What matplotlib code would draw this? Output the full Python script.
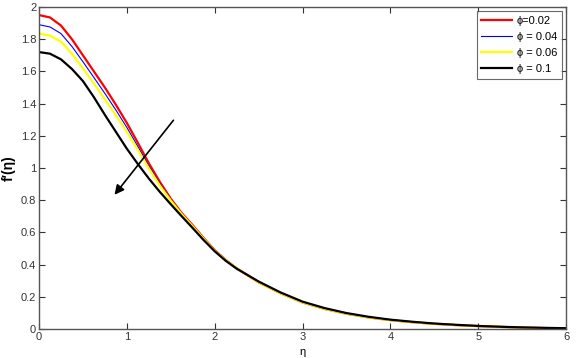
import matplotlib.pyplot as plt

# eta grid and f'(eta)
eta = [0, 0.125, 0.25, 0.375, 0.5, 0.625, 0.75, 0.875, 1.0, 1.125, 1.25,
       1.375, 1.5, 1.625, 1.75, 1.875, 2.0, 2.125, 2.25,
       2.5, 2.75, 3.0, 3.25, 3.5, 3.75, 4.0, 4.25, 4.5, 4.75, 5.0,
       5.25, 5.5, 5.75, 6.0]

tail = [0.29, 0.222, 0.165, 0.125, 0.095, 0.072, 0.055, 0.042, 0.032,
        0.024, 0.018, 0.013, 0.009, 0.006, 0.004]
tail_black = [0.295, 0.227, 0.17, 0.13, 0.099, 0.076, 0.058, 0.045, 0.034,
              0.026, 0.019, 0.014, 0.01, 0.007, 0.005]

phi_002 = [1.95, 1.935, 1.885, 1.80, 1.70, 1.60, 1.50, 1.393, 1.28, 1.157,
           1.03, 0.915, 0.81, 0.72, 0.645, 0.565, 0.49, 0.43, 0.377] + tail
phi_004 = [1.89, 1.876, 1.835, 1.755, 1.66, 1.562, 1.463, 1.36, 1.252, 1.134,
           1.013, 0.903, 0.803, 0.716, 0.641, 0.562, 0.488, 0.429, 0.377] + tail
phi_006 = [1.835, 1.822, 1.785, 1.71, 1.62, 1.525, 1.428, 1.328, 1.226, 1.113,
           0.998, 0.892, 0.798, 0.713, 0.638, 0.56, 0.486, 0.428, 0.377] + tail
phi_01 = [1.72, 1.71, 1.675, 1.615, 1.54, 1.44, 1.33, 1.225, 1.12, 1.025,
          0.935, 0.852, 0.775, 0.70, 0.627, 0.552, 0.483, 0.424, 0.375] + tail_black

labels = ['\u03d5=0.02', '\u03d5 = 0.04', '\u03d5 = 0.06', '\u03d5 = 0.1']
colors = ['red', 'blue', 'yellow', 'black']
widths = [1.6, 0.8, 1.6, 1.6]

plt.rcParams['font.family'] = ['Liberation Sans', 'DejaVu Sans']

fig = plt.figure(figsize=(5.78, 3.58), dpi=100)
ax = fig.add_axes([39 / 578, 29 / 358, 527 / 578, 322 / 358])

for ys, c, w, lab in zip([phi_002, phi_004, phi_006, phi_01], colors, widths, labels):
    ax.plot(eta, ys, color=c, lw=w, label=lab, solid_joinstyle='round')

# arrow showing increasing phi
ax.annotate('', xy=(0.84, 0.82), xytext=(1.55, 1.31),
            arrowprops=dict(arrowstyle='-|>', color='black', lw=1.2,
                            mutation_scale=14))

ax.set_xlim(0, 6)
ax.set_ylim(0, 2)
ax.set_xticks(range(7))
ax.set_yticks([0, 0.2, 0.4, 0.6, 0.8, 1, 1.2, 1.4, 1.6, 1.8, 2])
ax.set_yticklabels(['0', '0.2', '0.4', '0.6', '0.8', '1', '1.2', '1.4', '1.6', '1.8', '2'])
ax.tick_params(direction='in', top=True, right=True, labelsize=8, length=4,
               colors='#333333', pad=2)
for s in ax.spines.values():
    s.set_color('#555555')
    s.set_linewidth(1)

ax.set_xlabel('\u03b7', fontsize=8, labelpad=4)
ax.set_ylabel('f\u2032(\u03b7)', fontsize=10, fontweight='bold')
ax.yaxis.set_label_coords(-0.044, 0.5)

leg = ax.legend(loc='upper right', fontsize=8, frameon=True, fancybox=False,
                handlelength=2.8, handletextpad=0.4, borderpad=0.4,
                labelspacing=0.55, borderaxespad=0.4)
leg.get_frame().set_edgecolor('#444444')
leg.get_frame().set_linewidth(0.8)

fig.savefig('out.png', dpi=100)
